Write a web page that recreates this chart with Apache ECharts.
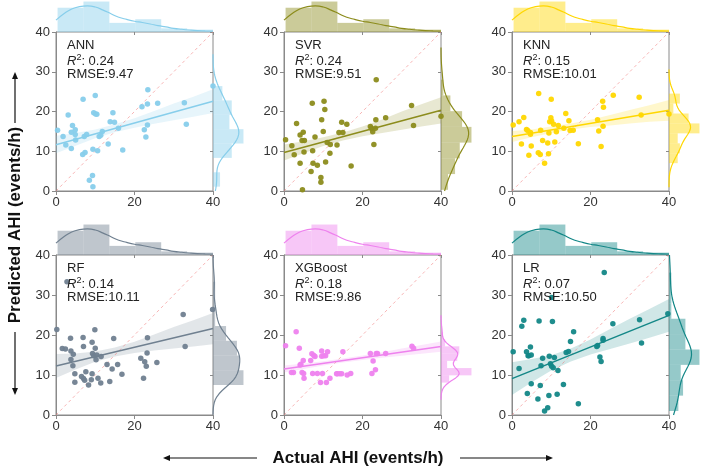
<!DOCTYPE html>
<html><head><meta charset="utf-8">
<script src="https://cdn.jsdelivr.net/npm/echarts@6/dist/echarts.min.js"></script>
<style>html,body{margin:0;padding:0;background:#fff}#c{width:702px;height:468px}</style>
</head><body><div id="c"></div>
<script>
// ---------------- DATA ----------------
const models = ['ANN', 'SVR', 'KNN', 'RF', 'XGBoost', 'LR'];
const r2Labels = ['0.24', '0.24', '0.15', '0.14', '0.18', '0.07'];
const rmseLabels = ['9.47', '9.51', '10.01', '10.11', '9.86', '10.50'];
const colors = ['#87CEEB', '#8c8c1c', '#FFD700', '#708090', '#EE82EE', '#138787'];

// [actual, predicted]
const annPoints = [[0.4,15.3],[1.8,13.7],[2.5,11.6],[3.1,19.1],[3.9,10.7],[3.9,14.8],[4.2,16.5],[4.9,15.4],[4.9,14.2],[5.0,12.8],[6.9,23.1],[6.8,9.2],[7.4,9.7],[7.2,13.7],[7.8,14.2],[8.5,2.7],[9.3,3.9],[9.4,1.1],[9.4,10.5],[9.6,19.7],[10.0,24.0],[10.1,19.4],[10.4,19.3],[10.6,10.1],[11.0,13.7],[11.4,14.0],[11.8,15.0],[13.3,11.8],[13.8,17.4],[14.5,19.7],[14.9,17.3],[15.9,15.8],[17.0,10.3],[21.9,21.2],[22.5,15.4],[22.9,13.6],[23.3,21.9],[23.4,25.5],[23.3,16.6],[25.9,22.1],[32.7,22.2],[33.2,16.8],[40,26.4]];
const svrPoints = [[0.4,12.9],[2.0,11.4],[2.6,9.1],[3.2,17.0],[4.1,14.1],[4.1,7.0],[4.6,12.7],[4.7,0.3],[4.9,14.8],[5.2,12.7],[5.1,9.8],[6.9,4.9],[7.2,22.1],[7.3,10.1],[7.4,7.0],[7.9,13.6],[8.5,6.5],[9.4,3.4],[9.4,2.2],[9.6,17.9],[10.0,15.0],[10.2,22.6],[10.4,20.5],[10.6,7.3],[11.0,12.2],[11.7,9.5],[11.8,11.7],[13.5,11.6],[14.0,14.7],[14.7,17.3],[15.0,14.7],[16.0,16.8],[17.1,6.3],[22.0,16.2],[22.3,15.7],[22.6,14.9],[22.9,11.7],[23.3,15.8],[23.4,17.9],[23.5,28.0],[25.9,18.4],[32.5,21.5],[33.0,16.5],[40,18.8]];
const knnPoints = [[0.3,16.6],[1.8,17.4],[2.4,11.8],[3.0,18.5],[3.7,15.5],[4.0,15.2],[4.3,9.0],[4.7,14.7],[4.9,11.3],[4.7,14.3],[6.8,24.5],[6.7,9.6],[7.2,9.2],[7.3,15.3],[7.8,12.7],[8.3,7.0],[9.1,12.1],[9.3,9.4],[9.4,14.6],[9.6,17.4],[10.0,23.1],[9.9,18.4],[10.1,17.6],[10.6,16.8],[10.9,12.3],[11.3,14.9],[11.8,16.5],[13.2,15.8],[13.7,19.5],[14.5,17.7],[14.8,15.2],[15.6,15.3],[16.9,11.9],[21.8,17.9],[22.1,15.1],[22.7,11.2],[23.1,22.6],[23.3,21.1],[23.2,16.3],[25.8,24.1],[32.4,23.6],[32.9,19.1],[40,19.4]];
const rfPoints = [[0.2,21.4],[1.6,16.6],[2.4,16.5],[2.8,33.3],[3.7,19.2],[3.8,16.0],[3.8,13.9],[4.3,12.3],[4.4,15.2],[4.8,10.3],[4.8,8.2],[6.5,9.6],[6.9,19.4],[7.0,9.1],[7.0,17.1],[7.3,8.7],[7.6,10.8],[8.3,7.5],[9.0,8.8],[9.2,18.2],[9.2,10.3],[9.3,15.4],[9.6,14.8],[9.9,21.3],[10.0,16.7],[10.2,13.8],[10.4,15.0],[10.7,9.2],[11.4,8.0],[11.5,14.6],[13.0,12.6],[13.7,8.4],[14.3,11.5],[14.7,19.1],[15.7,12.6],[16.8,10.2],[21.6,14.2],[22.3,9.2],[22.6,13.3],[23.0,12.2],[23.2,15.5],[23.3,19.3],[25.7,13.1],[32.4,25.1],[32.9,17.1],[39.9,26.4]];
const xgbPoints = [[0.4,17.3],[1.9,10.6],[2.4,10.6],[3.1,20.8],[3.9,16.7],[4.1,12.5],[4.3,12.7],[4.6,10.6],[4.9,13.6],[5.0,10.4],[5.1,9.2],[6.8,13.6],[7.1,15.3],[7.3,10.4],[7.6,14.9],[7.9,14.6],[8.5,10.4],[9.3,8.1],[9.6,16.0],[9.6,14.7],[9.8,10.4],[10.1,14.8],[10.6,14.8],[10.8,8.1],[11.1,15.8],[11.7,9.2],[13.4,10.3],[13.6,10.3],[14.2,10.3],[14.7,10.3],[15.0,15.8],[16.1,10.0],[17.0,10.4],[22.0,15.4],[22.4,10.4],[22.7,13.5],[23.3,11.3],[23.5,15.4],[23.8,15.4],[25.9,15.4],[32.6,17.2],[33.0,16.7]];
const lrPoints = [[0.3,15.8],[1.8,11.6],[2.5,22.2],[3.0,23.7],[3.7,15.8],[4.1,14.8],[4.7,17.0],[3.9,5.4],[4.3,14.8],[4.9,15.0],[4.9,7.8],[6.6,4.0],[6.9,23.5],[7.2,7.4],[7.4,12.3],[7.8,14.2],[8.3,1.0],[9.1,1.8],[9.4,4.9],[9.5,14.7],[9.8,12.8],[10.1,12.2],[10.1,29.4],[10.3,23.4],[10.5,11.8],[10.8,14.4],[11.7,11.1],[11.5,5.2],[13.1,7.6],[13.8,15.6],[14.4,15.9],[14.9,18.4],[15.7,20.8],[16.9,2.8],[21.6,17.1],[21.8,17.4],[22.4,14.5],[22.7,13.4],[23.2,19.1],[23.2,18.7],[23.5,35.6],[25.7,22.8],[32.5,23.8],[33.0,18.0],[39.7,25.3]];
const allPoints = [annPoints, svrPoints, knnPoints, rfPoints, xgbPoints, lrPoints];

// regression fit line (value at actual = 0 and actual = 40)
const fitX = [0, 40];
const fitY = [[11.65, 22.6], [9.7, 20.3], [13.7, 20.3], [12.25, 21.6], [11.5, 17.1], [9.1, 24.9]];

// 95% confidence band of the fit, read at these actual values
const bandX = [0, 5, 10, 15, 20, 25, 30, 35, 40];
const bandLo = [
  [9.5, 11.4, 13.3, 14.8, 15.9, 16.9, 17.8, 18.7, 19.6],
  [7.7, 9.5, 11.3, 12.7, 13.8, 14.6, 15.4, 16.2, 17.0],
  [12.3, 13.5, 14.6, 15.5, 16.1, 16.5, 17.0, 17.4, 17.7],
  [9.25, 11.4, 13.3, 14.65, 15.5, 16.1, 16.6, 17.1, 17.7],
  [10.6, 11.5, 12.35, 13.1, 13.75, 14.3, 14.8, 15.3, 15.8],
  [5.0, 8.2, 11.15, 13.4, 15.1, 16.5, 17.85, 19.3, 20.8]
];
const bandHi = [
  [13.9, 14.6, 15.5, 16.8, 18.3, 20.1, 22.0, 23.7, 25.6],
  [11.7, 12.5, 13.5, 14.7, 16.2, 18.0, 20.0, 21.8, 23.6],
  [15.1, 15.5, 16.2, 17.0, 17.9, 19.1, 20.4, 21.6, 22.9],
  [15.25, 15.4, 15.9, 16.85, 18.3, 20.1, 22.0, 23.7, 25.5],
  [12.4, 12.9, 13.45, 14.1, 14.85, 15.7, 16.6, 17.5, 18.4],
  [13.2, 14.0, 14.95, 16.6, 18.9, 21.5, 24.05, 26.5, 29.0]
];

// identity reference line (actual = predicted)
const refLine = [0, 40];

// top marginal (actual AHI, same for every panel)
const topEdges = [0.4, 7.0, 13.6, 20.2, 26.8, 33.4, 40];
const topCounts = [13.3, 16.7, 5.0, 7.0, 2.0, 1.3];
const topKdeX = [0, 2, 4, 6, 8, 10, 12, 14, 16, 18, 20, 22, 24, 26, 28, 30, 32, 34, 36, 38, 40];
const topKdeY = [6.5, 10.0, 12.6, 13.9, 14.3, 13.7, 12.0, 10.0, 8.1, 6.9, 5.9, 5.2, 4.4, 3.5, 2.8, 2.0, 1.5, 1.1, 0.8, 0.65, 0.55];

// ---------------- helpers ----------------
const FONT = '"Liberation Sans", Arial, Helvetica, sans-serif';
const AXC = '#8a8a8a';
function rgba(hex, a) {
  const n = parseInt(hex.slice(1), 16);
  return `rgba(${(n >> 16) & 255},${(n >> 8) & 255},${n & 255},${a})`;
}
function quantile(s, q) {
  const pos = (s.length - 1) * q, lo = Math.floor(pos), hi = Math.ceil(pos);
  return s[lo] + (s[hi] - s[lo]) * (pos - lo);
}
function histogram(vals) {
  const s = [...vals].sort((a, b) => a - b), n = s.length;
  const mn = s[0], mx = s[n - 1], range = mx - mn;
  const sturges = range / (Math.log2(n) + 1);
  const fd = 2 * (quantile(s, 0.75) - quantile(s, 0.25)) * Math.pow(n, -1 / 3);
  const w = fd > 0 ? Math.min(sturges, fd) : sturges;
  const nb = Math.max(1, Math.ceil(range / w));
  const bw = range / nb;
  const counts = new Array(nb).fill(0);
  vals.forEach(v => { let k = Math.floor((v - mn) / bw); if (k >= nb) k = nb - 1; counts[k]++; });
  return { bins: counts.map((c, i) => [mn + i * bw, mn + (i + 1) * bw, c]), binWidth: bw };
}
function kdeCurve(vals, binWidth) {
  const n = vals.length, mean = vals.reduce((a, b) => a + b, 0) / n;
  const sd = Math.sqrt(vals.reduce((a, v) => a + (v - mean) ** 2, 0) / (n - 1));
  const bw = sd * Math.pow(n, -0.2);
  const a = Math.max(0, Math.min(...vals) - 3 * bw), b = Math.min(40, Math.max(...vals) + 3 * bw);
  const pts = [];
  for (let i = 0; i <= 160; i++) {
    const y = a + (b - a) * i / 160;
    let d = 0;
    vals.forEach(v => { const z = (y - v) / bw; d += Math.exp(-0.5 * z * z); });
    d = d / (n * bw * Math.sqrt(2 * Math.PI));
    pts.push([d * n * binWidth, y]);
  }
  return pts;
}

// ---------------- layout ----------------
const colLeft = [56, 284, 512];
const rowTop = [32, 255];
const rowH = [159, 160];
const W = 157, MARG = 32;

const grids = [], xAxes = [], yAxes = [], series = [], graphics = [];
const topMax = 1.05 * Math.max(...topCounts, ...topKdeY);
const topBins = topCounts.map((c, i) => [topEdges[i], topEdges[i + 1], c]);

models.forEach((name, p) => {
  const col = p % 3, row = Math.floor(p / 3);
  const L = colLeft[col], T = rowTop[row], H = rowH[row];
  const color = colors[p];
  const pts = allPoints[p];
  const pred = pts.map(d => d[1]);
  const h = histogram(pred);
  const kde = kdeCurve(pred, h.binWidth);
  const rightMax = 1.05 * Math.max(...h.bins.map(b => b[2]), ...kde.map(k => k[0]));
  const gi = grids.length;

  grids.push({ left: L, top: T, width: W, height: H, show: true, borderColor: AXC, borderWidth: 1, backgroundColor: 'transparent' });
  grids.push({ left: L, top: T - MARG, width: W, height: MARG });
  grids.push({ left: L + W, top: T, width: MARG, height: H });

  const lbl = { fontSize: 13, color: '#333', fontFamily: FONT };
  xAxes.push({ gridIndex: gi, type: 'value', min: 0, max: 40, interval: 20,
    axisLine: { lineStyle: { color: AXC } }, axisTick: { length: 4, lineStyle: { color: AXC } },
    axisLabel: Object.assign({ margin: 5 }, lbl), splitLine: { show: false } });
  yAxes.push({ gridIndex: gi, type: 'value', min: 0, max: 40, interval: 10,
    axisLine: { lineStyle: { color: AXC } }, axisTick: { length: 4, lineStyle: { color: AXC } },
    axisLabel: Object.assign({ margin: 6 }, lbl), splitLine: { show: false } });
  xAxes.push({ gridIndex: gi + 1, type: 'value', min: 0, max: 40, interval: 20,
    axisLine: { show: false }, axisTick: { show: true, length: 3, lineStyle: { color: AXC } },
    axisLabel: { show: false }, splitLine: { show: false } });
  yAxes.push({ gridIndex: gi + 1, type: 'value', min: 0, max: topMax, show: false });
  xAxes.push({ gridIndex: gi + 2, type: 'value', min: 0, max: rightMax, show: false });
  yAxes.push({ gridIndex: gi + 2, type: 'value', min: 0, max: 40, interval: 10,
    axisLine: { show: false }, axisTick: { show: true, length: 3, lineStyle: { color: AXC } },
    axisLabel: { show: false }, splitLine: { show: false } });

  const lo = bandLo[p], hi = bandHi[p];
  series.push({ type: 'custom', xAxisIndex: gi, yAxisIndex: gi, silent: true, clip: true, data: [[0, 0]], z: 1,
    renderItem: (params, api) => {
      const poly = [];
      bandX.forEach((x, i) => poly.push(api.coord([x, hi[i]])));
      for (let i = bandX.length - 1; i >= 0; i--) poly.push(api.coord([bandX[i], lo[i]]));
      return { type: 'polygon', shape: { points: poly }, style: { fill: rgba(color, 0.2) } };
    } });
  series.push({ type: 'line', xAxisIndex: gi, yAxisIndex: gi, silent: true, showSymbol: false, z: 2,
    data: refLine.map(v => [v, v]), lineStyle: { color: 'rgba(240,120,120,0.55)', width: 1, type: [3, 3] } });
  series.push({ type: 'scatter', xAxisIndex: gi, yAxisIndex: gi, silent: true, symbolSize: 5.5, z: 3,
    data: pts, itemStyle: { color: color, opacity: 0.95 } });
  series.push({ type: 'line', xAxisIndex: gi, yAxisIndex: gi, silent: true, showSymbol: false, z: 4,
    data: fitX.map((x, i) => [x, fitY[p][i]]), lineStyle: { color: color, width: 1.5 } });

  // top marginal
  series.push({ type: 'custom', xAxisIndex: gi + 1, yAxisIndex: gi + 1, silent: true, data: topBins,
    renderItem: (params, api) => {
      const a = api.coord([api.value(0), api.value(2)]), b = api.coord([api.value(1), 0]);
      return { type: 'rect', shape: { x: a[0], y: a[1], width: b[0] - a[0], height: b[1] - a[1] }, style: { fill: rgba(color, 0.45) } };
    } });
  series.push({ type: 'line', xAxisIndex: gi + 1, yAxisIndex: gi + 1, silent: true, showSymbol: false, smooth: true,
    data: topKdeX.map((x, i) => [x, topKdeY[i]]), lineStyle: { color: color, width: 1.2 } });

  // right marginal
  series.push({ type: 'custom', xAxisIndex: gi + 2, yAxisIndex: gi + 2, silent: true, data: h.bins,
    renderItem: (params, api) => {
      const a = api.coord([api.value(2), api.value(1)]), b = api.coord([0, api.value(0)]);
      return { type: 'rect', shape: { x: b[0], y: a[1], width: a[0] - b[0], height: b[1] - a[1] }, style: { fill: rgba(color, 0.45) } };
    } });
  series.push({ type: 'line', xAxisIndex: gi + 2, yAxisIndex: gi + 2, silent: true, showSymbol: false,
    data: kde, lineStyle: { color: color, width: 1.2 } });

  // annotation text
  const tx = L + 11, ty = T + 7;
  graphics.push({ type: 'text', x: tx, y: ty, z: 100, style: { text: name, fontSize: 13, fontFamily: FONT, fill: '#222' } });
  graphics.push({ type: 'text', x: tx, y: ty + 14.5, z: 100, style: {
    text: '{i|R}{s|2}{n|: ' + r2Labels[p] + '}', fontSize: 13, fontFamily: FONT, fill: '#222',
    rich: { i: { fontSize: 13, fontStyle: 'italic', fontFamily: FONT, fill: '#222', lineHeight: 15 },
            s: { fontSize: 9, fontFamily: FONT, fill: '#222', verticalAlign: 'top', lineHeight: 15 },
            n: { fontSize: 13, fontFamily: FONT, fill: '#222', lineHeight: 15 } } } });
  graphics.push({ type: 'text', x: tx, y: ty + 29, z: 100, style: { text: 'RMSE:' + rmseLabels[p], fontSize: 13, fontFamily: FONT, fill: '#222' } });
});

// axis titles with arrows
function arrow(x1, y1, x2, y2) {
  const dx = x2 - x1, dy = y2 - y1, len = Math.hypot(dx, dy), ux = dx / len, uy = dy / len;
  const hl = 7, hw = 3;
  const bx = x2 - ux * hl, by = y2 - uy * hl;
  graphics.push({ type: 'line', shape: { x1: x1, y1: y1, x2: bx, y2: by }, style: { stroke: '#111', lineWidth: 1.2 } });
  graphics.push({ type: 'polygon', shape: { points: [[x2, y2], [bx - uy * hw, by + ux * hw], [bx + uy * hw, by - ux * hw]] }, style: { fill: '#111' } });
}
graphics.push({ type: 'text', x: 358, y: 458, style: { text: 'Actual AHI (events/h)', font: 'bold 17px ' + FONT, fill: '#111', align: 'center', verticalAlign: 'middle' } });
arrow(257, 458, 163, 458);
arrow(460, 458, 553, 458);
graphics.push({ type: 'text', x: 15, y: 225, rotation: Math.PI / 2, style: { text: 'Predicted AHI (events/h)', font: 'bold 17px ' + FONT, fill: '#111', align: 'center', verticalAlign: 'middle' } });
arrow(15, 123, 15, 72);
arrow(15, 332, 15, 395);

const chart = echarts.init(document.getElementById('c'), null, { renderer: 'canvas' });
chart.setOption({
  animation: false,
  backgroundColor: '#fff',
  grid: grids, xAxis: xAxes, yAxis: yAxes, series: series, graphic: graphics
});
</script></body></html>
